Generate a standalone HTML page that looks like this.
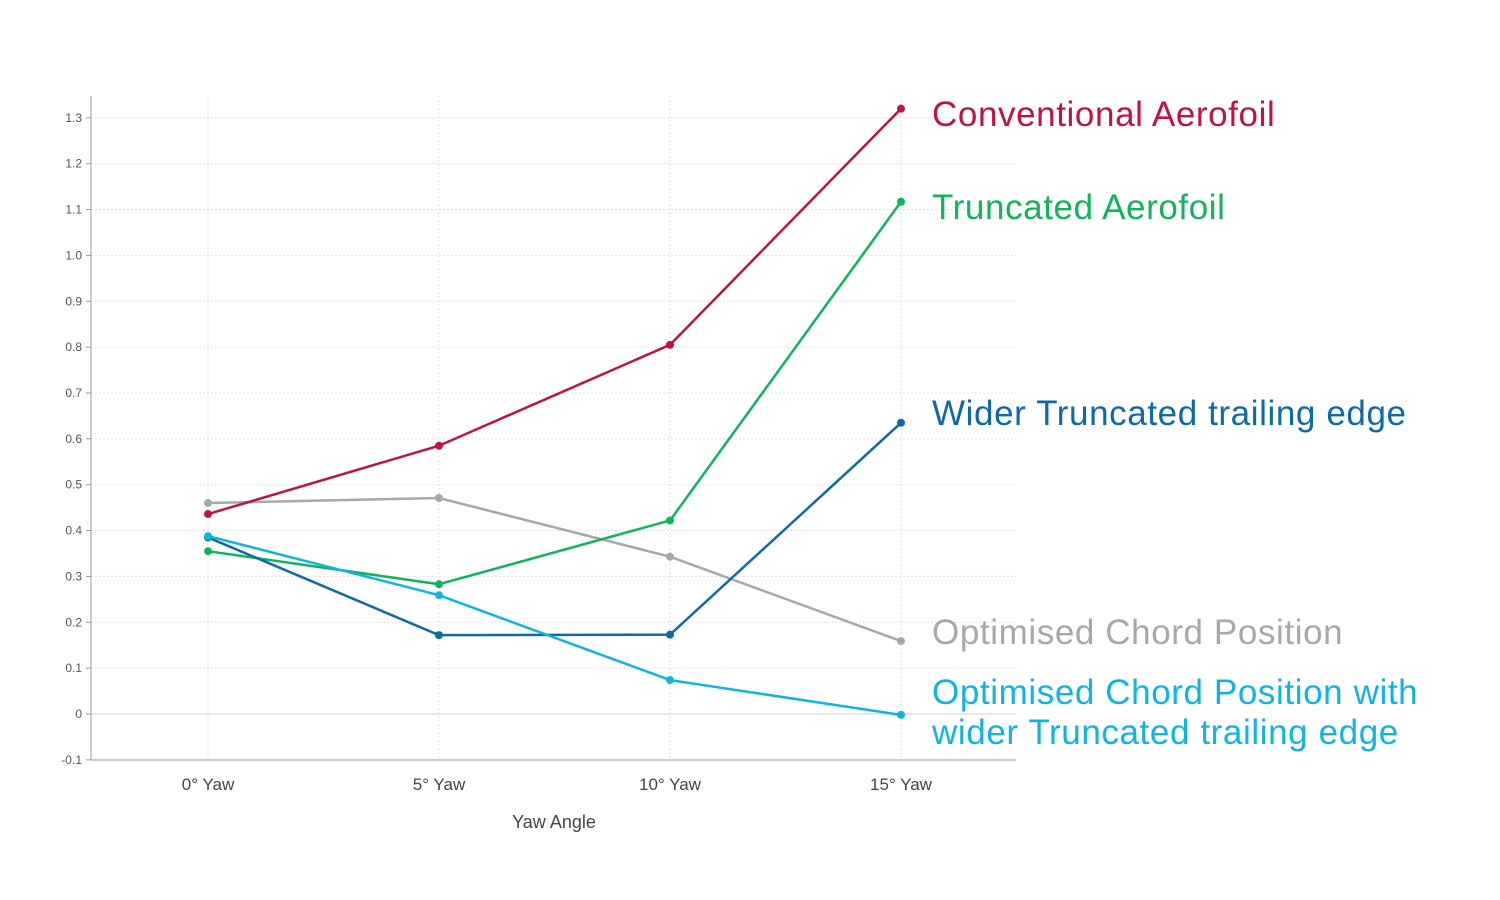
<!DOCTYPE html>
<html><head><meta charset="utf-8"><style>
body{margin:0;background:#fff;}
svg{display:block;font-family:"Liberation Sans",sans-serif;}
</style></head><body>
<svg id="chart" width="1500" height="900" viewBox="0 0 1500 900">
<g id="grid"></g>
<g id="axes"></g>
<g id="series"></g>
<g id="labels"></g>
</svg>
<script>
const categories = ["0° Yaw","5° Yaw","10° Yaw","15° Yaw"];
const yTicks = [-0.1,0,0.1,0.2,0.3,0.4,0.5,0.6,0.7,0.8,0.9,1.0,1.1,1.2,1.3];
const yTickLabels = ["-0.1","0","0.1","0.2","0.3","0.4","0.5","0.6","0.7","0.8","0.9","1.0","1.1","1.2","1.3"];
const seriesNames = ["Gray","Red","Green","DarkBlue","Cyan"];
const grayValues = [0.46,0.471,0.343,0.159];
const redValues = [0.436,0.585,0.805,1.32];
const greenValues = [0.355,0.283,0.422,1.117];
const darkBlueValues = [0.385,0.172,0.173,0.635];
const cyanValues = [0.388,0.259,0.074,-0.002];

const NS="http://www.w3.org/2000/svg";
const x0=208, dx=231;
function xs(i){return x0+i*dx;}
function ys(v){return 714 - v*458.6;}
function mk(tag,attrs,parent,text){const e=document.createElementNS(NS,tag);for(const k in attrs)e.setAttribute(k,attrs[k]);if(text!==undefined)e.textContent=text;parent.appendChild(e);return e;}

const grid=document.getElementById('grid'), axes=document.getElementById('axes'), ser=document.getElementById('series'), lab=document.getElementById('labels');
yTicks.forEach((t,i)=>{
  const y=ys(t);
  if(t!==-0.1){const l=mk('line',{x1:91,x2:1016,y1:y,y2:y,stroke:t===0?'#cfcfcf':'#e2e2e2','stroke-dasharray':t===0?'':'2,2'},grid);
  
  }
  const tk=mk('line',{x1:86,x2:91,y1:y,y2:y,stroke:'#999'},axes);
  
  
  const tx=mk('text',{x:82,y:y+4,'text-anchor':'end','font-size':12,fill:'#555'},axes,yTickLabels[i]);
  
  
});
categories.forEach((c,i)=>{
  const l=mk('line',{x1:xs(i),x2:xs(i),y1:96,y2:760,stroke:'#e2e2e2','stroke-dasharray':'2,2'},grid);
  
  
  const t=mk('text',{x:xs(i),y:790,'text-anchor':'middle','font-size':17,fill:'#444'},axes,c);
  
  
});
const ya=mk('line',{x1:91,x2:91,y1:96,y2:760,stroke:'#999'},axes);


const xa=mk('line',{x1:91,x2:1016,y1:760,y2:760,stroke:'#999'},axes);


const xt=mk('text',{x:554,y:828,'text-anchor':'middle','font-size':18,fill:'#444'},axes,'Yaw Angle');



const defs=[
 {vals:grayValues,color:'#a5a9ad',name:'optimised-chord-series',label:['Optimised Chord Position'],ly:644},
 {vals:redValues,color:'#c0143c',name:'conventional-aerofoil-series',label:['Conventional Aerofoil'],ly:126},
 {vals:greenValues,color:'#10b45a',name:'truncated-aerofoil-series',label:['Truncated Aerofoil'],ly:219},
 {vals:darkBlueValues,color:'#0c6aa6',name:'wider-truncated-series',label:['Wider Truncated trailing edge'],ly:425},
 {vals:cyanValues,color:'#10b4e0',name:'optimised-wider-series',label:['Optimised Chord Position with','wider Truncated trailing edge'],ly:704}
];
defs.forEach(d=>{
  const g=mk('g',{},ser);
  
  
  const pts=d.vals.map((v,i)=>xs(i)+','+ys(v)).join(' ');
  const pl=mk('polyline',{points:pts,fill:'none',stroke:d.color,'stroke-width':2.5},g);
  
  
  d.vals.forEach((v,i)=>{
    const c=mk('circle',{cx:xs(i),cy:ys(v),r:4,fill:d.color},g);
    
    
  });
  d.label.forEach((s,k)=>{
    const t=mk('text',{x:932,y:d.ly+k*40,'font-size':35,fill:d.color,'letter-spacing':0.6},lab,s);
    
    
  });
});
</script>
</body></html>
